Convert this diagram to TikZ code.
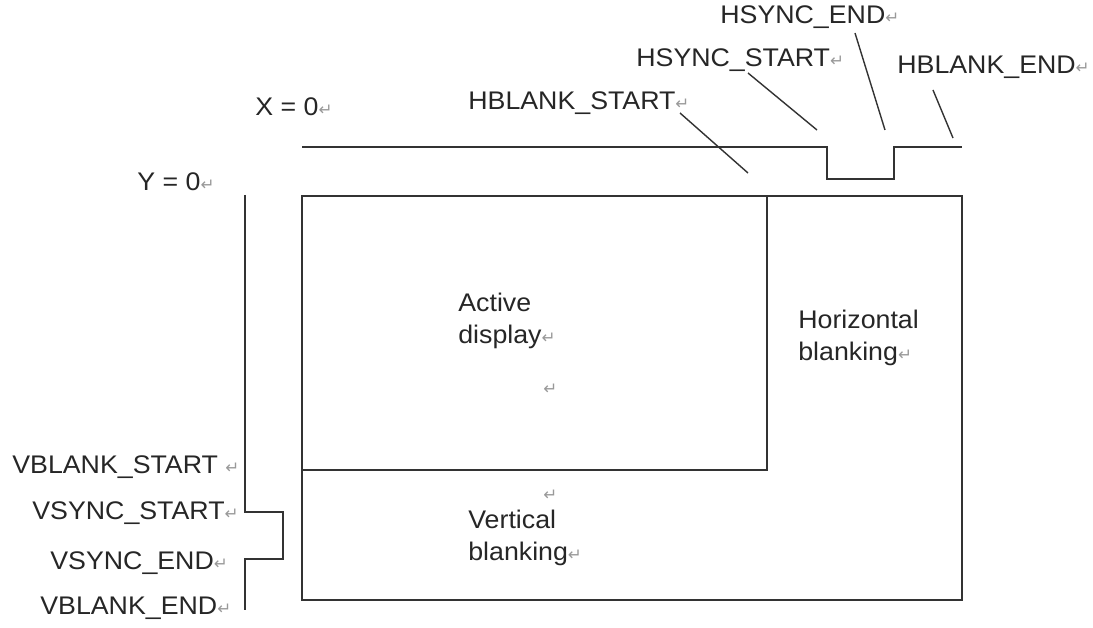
\documentclass[tikz,border=0pt]{standalone}
\usepackage{fontspec}
\setmainfont[FakeStretch=1.05]{Liberation Sans}
\newfontfamily\markfont{DejaVu Sans}
\usetikzlibrary{positioning}

% Word paragraph mark
\newcommand{\pmark}{{\color{gray!80}\markfont\fontsize{9.5}{9.5}\selectfont ↵}}

\begin{document}
\begin{tikzpicture}[
        x=0.02cm, y=-0.02cm,
        lbl/.style={anchor=west, inner sep=0pt, text=black!85,
                    font=\fontsize{14.5}{18.5}\selectfont},
        blk/.style={lbl, align=left},
        sig/.style={draw=black!80, line width=1.1pt},
        lead/.style={draw=black!80, line width=0.8pt}
    ]
        \useasboundingbox (0,0) rectangle (1093,628);

        % frame
        \draw[sig] (302,196) rectangle (962,600);
        \draw[sig] (302,196) rectangle (767,470);

        % horizontal sync waveform
        \coordinate (h0) at (302,147);
        \coordinate (h1) at (827,147);
        \coordinate (h2) at (827,179);
        \coordinate (h3) at (894,179);
        \coordinate (h4) at (894,147);
        \coordinate (h5) at (962,147);
        \draw[sig] (h0) -- (h1) -- (h2) -- (h3) -- (h4) -- (h5);

        % vertical sync waveform
        \coordinate (v0) at (245,195);
        \coordinate (v1) at (245,512);
        \coordinate (v2) at (283,512);
        \coordinate (v3) at (283,559);
        \coordinate (v4) at (245,559);
        \coordinate (v5) at (245,610);
        \draw[sig] (v0) -- (v1) -- (v2) -- (v3) -- (v4) -- (v5);

        % labels
        \node[lbl] (xzero) at (255,107) {X = 0\pmark};
        \node[lbl] (yzero) at (137,182) {Y = 0\pmark};
        \node[lbl] (hbs) at (468,103) {HBLANK\_START\pmark};
        \node[lbl] (hss) at (636,60) {HSYNC\_START\pmark};
        \node[lbl] (hse) at (720,17) {HSYNC\_END\pmark};
        \node[lbl] (hbe) at (897,67) {HBLANK\_END\pmark};
        \node[lbl] (vbs) at (12,467) {VBLANK\_START \pmark};
        \node[lbl] (vss) at (32,513) {VSYNC\_START\pmark};
        \node[lbl] (vse) at (50,563) {VSYNC\_END\pmark};
        \node[lbl] (vbe) at (40,608) {VBLANK\_END\pmark};

        \node[blk] (active) at (458,321) {Active\\display\pmark};
        \node[lbl] (mark1) at (543,389) {\pmark};
        \node[lbl] (mark2) at (543,495) {\pmark};
        \node[blk] (vblank) at (468,538) {Vertical\\blanking\pmark};
        \node[blk] (hblank) at (798,338) {Horizontal\\blanking\pmark};

        % leader lines
        \coordinate (hbsA) at (680,113);
        \coordinate (hbsB) at (748,173);
        \coordinate (hssA) at (748,73);
        \coordinate (hssB) at (817,130);
        \coordinate (hseA) at (855,33);
        \coordinate (hseB) at (885,130);
        \coordinate (hbeA) at (933,90);
        \coordinate (hbeB) at (953,138);
        \draw[lead] (hbsA) -- (hbsB);
        \draw[lead] (hssA) -- (hssB);
        \draw[lead] (hseA) -- (hseB);
        \draw[lead] (hbeA) -- (hbeB);
    \end{tikzpicture}
\end{document}
